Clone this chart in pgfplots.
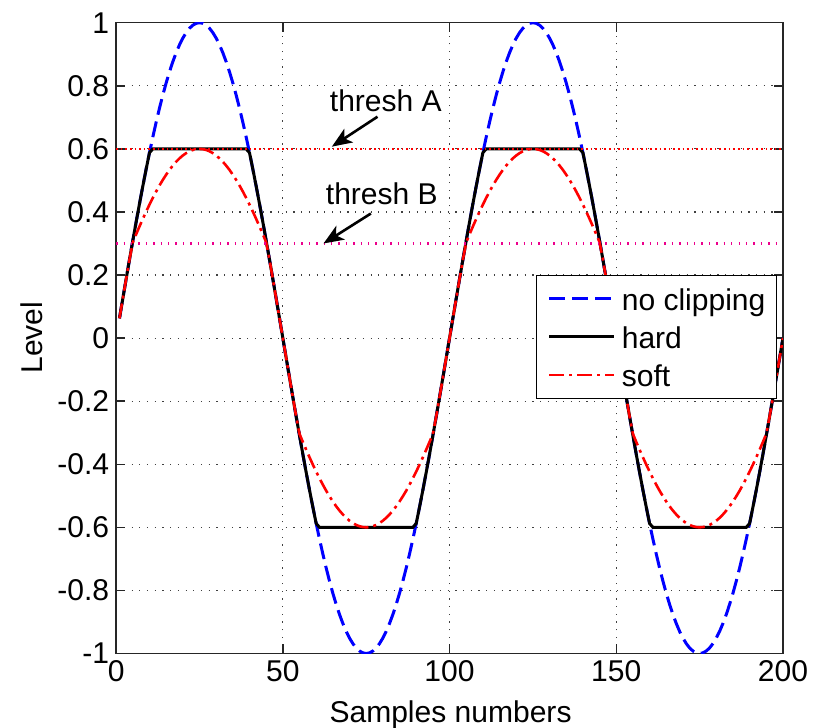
\documentclass[border=0pt]{standalone}
\usepackage{fontspec}
\setmainfont{Liberation Sans}
\usepackage{pgfplots}
\usepackage{pgfplotstable}
\pgfplotsset{compat=1.18}
\usetikzlibrary{arrows.meta}

\pgfplotstableread{
n s h f
1 0.0628 0.0628 0.0628
2 0.1253 0.1253 0.1253
3 0.1874 0.1874 0.1874
4 0.2487 0.2487 0.2487
5 0.3090 0.3090 0.3039
6 0.3681 0.3681 0.3292
7 0.4258 0.4258 0.3539
8 0.4818 0.4818 0.3779
9 0.5358 0.5358 0.4011
10 0.5878 0.5878 0.4233
11 0.6374 0.6 0.4446
12 0.6845 0.6 0.4648
13 0.7290 0.6 0.4839
14 0.7705 0.6 0.5016
15 0.8090 0.6 0.5181
16 0.8443 0.6 0.5333
17 0.8763 0.6 0.5470
18 0.9048 0.6 0.5592
19 0.9298 0.6 0.5699
20 0.9511 0.6 0.5790
21 0.9686 0.6 0.5865
22 0.9823 0.6 0.5924
23 0.9921 0.6 0.5966
24 0.9980 0.6 0.5991
25 1.0000 0.6 0.6000
26 0.9980 0.6 0.5991
27 0.9921 0.6 0.5966
28 0.9823 0.6 0.5924
29 0.9686 0.6 0.5865
30 0.9511 0.6 0.5790
31 0.9298 0.6 0.5699
32 0.9048 0.6 0.5592
33 0.8763 0.6 0.5470
34 0.8443 0.6 0.5333
35 0.8090 0.6 0.5181
36 0.7705 0.6 0.5016
37 0.7290 0.6 0.4839
38 0.6845 0.6 0.4648
39 0.6374 0.6 0.4446
40 0.5878 0.5878 0.4233
41 0.5358 0.5358 0.4011
42 0.4818 0.4818 0.3779
43 0.4258 0.4258 0.3539
44 0.3681 0.3681 0.3292
45 0.3090 0.3090 0.3039
46 0.2487 0.2487 0.2487
47 0.1874 0.1874 0.1874
48 0.1253 0.1253 0.1253
49 0.0628 0.0628 0.0628
50 0 0 0
51 -0.0628 -0.0628 -0.0628
52 -0.1253 -0.1253 -0.1253
53 -0.1874 -0.1874 -0.1874
54 -0.2487 -0.2487 -0.2487
55 -0.3090 -0.3090 -0.3039
56 -0.3681 -0.3681 -0.3292
57 -0.4258 -0.4258 -0.3539
58 -0.4818 -0.4818 -0.3779
59 -0.5358 -0.5358 -0.4011
60 -0.5878 -0.5878 -0.4233
61 -0.6374 -0.6 -0.4446
62 -0.6845 -0.6 -0.4648
63 -0.7290 -0.6 -0.4839
64 -0.7705 -0.6 -0.5016
65 -0.8090 -0.6 -0.5181
66 -0.8443 -0.6 -0.5333
67 -0.8763 -0.6 -0.5470
68 -0.9048 -0.6 -0.5592
69 -0.9298 -0.6 -0.5699
70 -0.9511 -0.6 -0.5790
71 -0.9686 -0.6 -0.5865
72 -0.9823 -0.6 -0.5924
73 -0.9921 -0.6 -0.5966
74 -0.9980 -0.6 -0.5991
75 -1.0000 -0.6 -0.6000
76 -0.9980 -0.6 -0.5991
77 -0.9921 -0.6 -0.5966
78 -0.9823 -0.6 -0.5924
79 -0.9686 -0.6 -0.5865
80 -0.9511 -0.6 -0.5790
81 -0.9298 -0.6 -0.5699
82 -0.9048 -0.6 -0.5592
83 -0.8763 -0.6 -0.5470
84 -0.8443 -0.6 -0.5333
85 -0.8090 -0.6 -0.5181
86 -0.7705 -0.6 -0.5016
87 -0.7290 -0.6 -0.4839
88 -0.6845 -0.6 -0.4648
89 -0.6374 -0.6 -0.4446
90 -0.5878 -0.5878 -0.4233
91 -0.5358 -0.5358 -0.4011
92 -0.4818 -0.4818 -0.3779
93 -0.4258 -0.4258 -0.3539
94 -0.3681 -0.3681 -0.3292
95 -0.3090 -0.3090 -0.3039
96 -0.2487 -0.2487 -0.2487
97 -0.1874 -0.1874 -0.1874
98 -0.1253 -0.1253 -0.1253
99 -0.0628 -0.0628 -0.0628
100 0 0 0
101 0.0628 0.0628 0.0628
102 0.1253 0.1253 0.1253
103 0.1874 0.1874 0.1874
104 0.2487 0.2487 0.2487
105 0.3090 0.3090 0.3039
106 0.3681 0.3681 0.3292
107 0.4258 0.4258 0.3539
108 0.4818 0.4818 0.3779
109 0.5358 0.5358 0.4011
110 0.5878 0.5878 0.4233
111 0.6374 0.6 0.4446
112 0.6845 0.6 0.4648
113 0.7290 0.6 0.4839
114 0.7705 0.6 0.5016
115 0.8090 0.6 0.5181
116 0.8443 0.6 0.5333
117 0.8763 0.6 0.5470
118 0.9048 0.6 0.5592
119 0.9298 0.6 0.5699
120 0.9511 0.6 0.5790
121 0.9686 0.6 0.5865
122 0.9823 0.6 0.5924
123 0.9921 0.6 0.5966
124 0.9980 0.6 0.5991
125 1.0000 0.6 0.6000
126 0.9980 0.6 0.5991
127 0.9921 0.6 0.5966
128 0.9823 0.6 0.5924
129 0.9686 0.6 0.5865
130 0.9511 0.6 0.5790
131 0.9298 0.6 0.5699
132 0.9048 0.6 0.5592
133 0.8763 0.6 0.5470
134 0.8443 0.6 0.5333
135 0.8090 0.6 0.5181
136 0.7705 0.6 0.5016
137 0.7290 0.6 0.4839
138 0.6845 0.6 0.4648
139 0.6374 0.6 0.4446
140 0.5878 0.5878 0.4233
141 0.5358 0.5358 0.4011
142 0.4818 0.4818 0.3779
143 0.4258 0.4258 0.3539
144 0.3681 0.3681 0.3292
145 0.3090 0.3090 0.3039
146 0.2487 0.2487 0.2487
147 0.1874 0.1874 0.1874
148 0.1253 0.1253 0.1253
149 0.0628 0.0628 0.0628
150 0 0 0
151 -0.0628 -0.0628 -0.0628
152 -0.1253 -0.1253 -0.1253
153 -0.1874 -0.1874 -0.1874
154 -0.2487 -0.2487 -0.2487
155 -0.3090 -0.3090 -0.3039
156 -0.3681 -0.3681 -0.3292
157 -0.4258 -0.4258 -0.3539
158 -0.4818 -0.4818 -0.3779
159 -0.5358 -0.5358 -0.4011
160 -0.5878 -0.5878 -0.4233
161 -0.6374 -0.6 -0.4446
162 -0.6845 -0.6 -0.4648
163 -0.7290 -0.6 -0.4839
164 -0.7705 -0.6 -0.5016
165 -0.8090 -0.6 -0.5181
166 -0.8443 -0.6 -0.5333
167 -0.8763 -0.6 -0.5470
168 -0.9048 -0.6 -0.5592
169 -0.9298 -0.6 -0.5699
170 -0.9511 -0.6 -0.5790
171 -0.9686 -0.6 -0.5865
172 -0.9823 -0.6 -0.5924
173 -0.9921 -0.6 -0.5966
174 -0.9980 -0.6 -0.5991
175 -1.0000 -0.6 -0.6000
176 -0.9980 -0.6 -0.5991
177 -0.9921 -0.6 -0.5966
178 -0.9823 -0.6 -0.5924
179 -0.9686 -0.6 -0.5865
180 -0.9511 -0.6 -0.5790
181 -0.9298 -0.6 -0.5699
182 -0.9048 -0.6 -0.5592
183 -0.8763 -0.6 -0.5470
184 -0.8443 -0.6 -0.5333
185 -0.8090 -0.6 -0.5181
186 -0.7705 -0.6 -0.5016
187 -0.7290 -0.6 -0.4839
188 -0.6845 -0.6 -0.4648
189 -0.6374 -0.6 -0.4446
190 -0.5878 -0.5878 -0.4233
191 -0.5358 -0.5358 -0.4011
192 -0.4818 -0.4818 -0.3779
193 -0.4258 -0.4258 -0.3539
194 -0.3681 -0.3681 -0.3292
195 -0.3090 -0.3090 -0.3039
196 -0.2487 -0.2487 -0.2487
197 -0.1874 -0.1874 -0.1874
198 -0.1253 -0.1253 -0.1253
199 -0.0628 -0.0628 -0.0628
200 0 0 0
}\data

\newcommand{\bigf}{\fontsize{15}{18}\selectfont}

\begin{document}
\begin{tikzpicture}
\path[use as bounding box] (-58pt,-37pt) rectangle (352pt,326.35pt);
\begin{axis}[
  scale only axis, width=333pt, height=315pt,
  xmin=0, xmax=200, ymin=-1, ymax=1,
  xtick={0,50,100,150,200}, xticklabels={0,50,100,150,200},
  ytick={-1,-0.8,-0.6,-0.4,-0.2,0,0.2,0.4,0.6,0.8,1},
  yticklabels={-1,-0.8,-0.6,-0.4,-0.2,0,0.2,0.4,0.6,0.8,1},
  tick align=inside, major tick length=4.5pt,
  grid=major,
  major grid style={black!75, line width=0.6pt, dash pattern=on 0.6pt off 3.25pt},
  axis line style={black!85, line width=0.75pt},
  every tick/.style={black!85, line width=0.75pt},
  tick label style={font=\bigf},
  legend cell align=left,
  legend style={at={(0.991,0.6)}, anchor=north east, draw=black, line width=0.5pt,
    font=\bigf, inner xsep=5.5pt, inner ysep=5.6pt, row sep=7pt, column sep=3pt,
    nodes={inner sep=0pt, text height=12pt, text depth=0pt}},
  legend image code/.code={\draw[#1] (0pt,0pt) -- (32.5pt,0pt);},
]
\addplot[blue, line width=1.5pt, dash pattern=on 8pt off 3.5pt] table[x=n, y=s] {\data};
\addlegendentry{no clipping}
\addplot[black, line width=1.5pt] table[x=n, y=h] {\data};
\addlegendentry{hard}
\addplot[red, line width=1.3pt, dash pattern=on 7.5pt off 2.5pt on 1.5pt off 2.5pt] table[x=n, y=f] {\data};
\addlegendentry{soft}
\addplot[red, line width=0.8pt, dash pattern=on 0.8pt off 1.5pt, forget plot] coordinates {(0,0.6) (200,0.6)};
\addplot[magenta, line width=1.3pt, dash pattern=on 0.7pt off 3pt, forget plot] coordinates {(0,0.3) (200,0.3)};
\node[font=\bigf] at (axis cs:80.9,0.754) {thresh A};
\node[font=\bigf] at (axis cs:79.7,0.459) {thresh B};
\draw[black, line width=1.3pt, -{Stealth[length=10pt, width=8pt, inset=2.5pt]}] (axis cs:78.4,0.702) -- (axis cs:64.7,0.607);
\draw[black, line width=1.3pt, -{Stealth[length=10pt, width=8pt, inset=2.5pt]}] (axis cs:76.4,0.395) -- (axis cs:62.2,0.300);
\end{axis}
\node[font=\bigf, rotate=90, anchor=base] at (-37pt,157.7pt) {Level};
\node[font=\bigf, anchor=base] at (167pt,-34.25pt) {Samples numbers};
\end{tikzpicture}
\end{document}
